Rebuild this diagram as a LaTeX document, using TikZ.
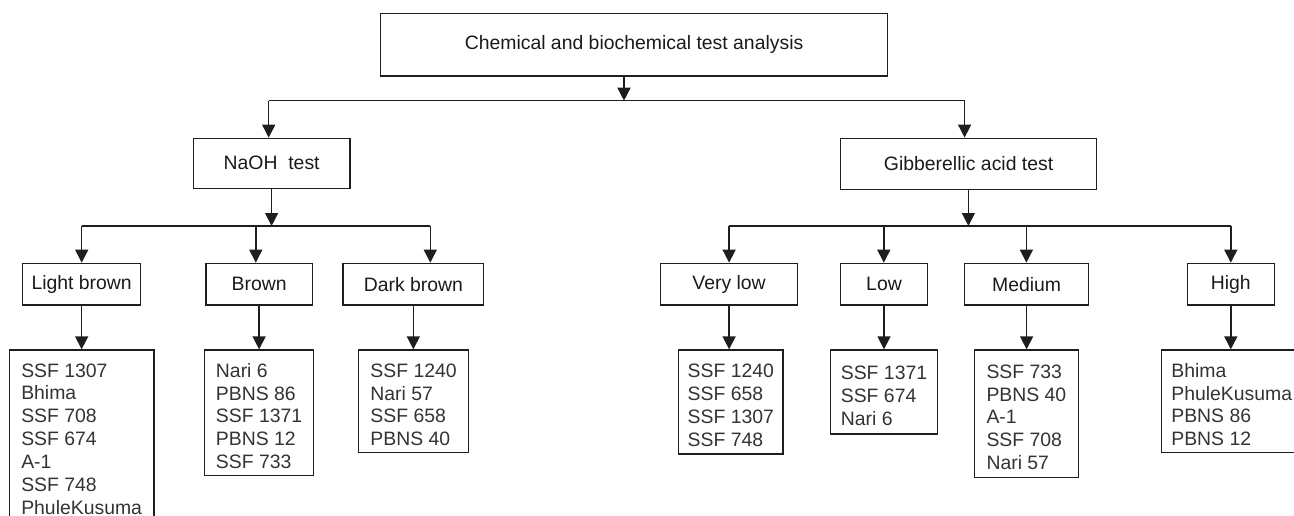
\documentclass[tikz,border=0pt]{standalone}
\usepackage{fontspec}
\setmainfont{Liberation Sans}
\usetikzlibrary{arrows.meta}
\definecolor{lncol}{HTML}{1E1E1E}
\definecolor{txcol}{HTML}{1A1A1A}
\definecolor{leafcol}{HTML}{333333}
\newcommand{\fl}{\rule{0pt}{20.8pt}}
\begin{document}
\begin{tikzpicture}[x=1pt,y=-1pt,
  box/.style={draw=lncol, line width=1.3pt, inner sep=0pt, text=txcol,
    font=\fontsize{19.4}{22.9}\selectfont, align=center},
  catbox/.style={box, minimum height=41.7pt},
  leaf/.style={box, align=left, text=leafcol},
  wire/.style={draw=lncol, line width=1.5pt},
  arr/.style={wire, -{Triangle[width=13pt,length=13pt]}}]
\useasboundingbox (0,0) rectangle (1294,516);
% top
\node[box, minimum width=506.9pt, minimum height=62.7pt] (top) at (634.05,44.65) {Chemical and biochemical test analysis};
% level 2
\node[box, minimum width=156.7pt, minimum height=50pt] (naoh) at (271.65,163.3) {NaOH\ \ test};
\node[box, minimum width=255.8pt, minimum height=51pt] (gib) at (968.6,163.8) {Gibberellic acid test};
% level 3
\node[catbox, minimum width=117.7pt] (lb) at (81.65,284.15) {Light brown};
\node[catbox, minimum width=106.2pt] (br) at (259.1,284.15) {Brown};
\node[catbox, minimum width=140.9pt] (db) at (413.35,284.15) {Dark brown};
\node[catbox, minimum width=136.8pt] (vl) at (729.1,284.15) {Very low};
\node[catbox, minimum width=86.6pt] (lo) at (884,284.15) {Low};
\node[catbox, minimum width=124pt] (me) at (1026.6,284.15) {Medium};
\node[catbox, minimum width=87pt] (hi) at (1230.8,284.15) {High};
% leaves
\node[leaf, minimum width=144.7pt, minimum height=170.8pt] (l1) at (81.65,435.4) {\fl SSF 1307\\Bhima\\SSF 708\\SSF 674\\A-1\\SSF 748\\PhuleKusuma};
\node[leaf, minimum width=109.4pt, minimum height=125.3pt] (l2) at (259.1,412.65) {\fl Nari 6\\PBNS 86\\SSF 1371\\PBNS 12\\SSF 733};
\node[leaf, minimum width=109.9pt, minimum height=102.3pt] (l3) at (413.55,401.15) {\fl SSF 1240\\Nari 57\\SSF 658\\PBNS 40};
\node[leaf, minimum width=104.4pt, minimum height=104pt] (l4) at (730.8,402) {\fl SSF 1240\\SSF 658\\SSF 1307\\SSF 748};
\node[leaf, minimum width=107.4pt, minimum height=84pt] (l5) at (884,392) {\fl SSF 1371\\SSF 674\\Nari 6};
\node[leaf, minimum width=104.4pt, minimum height=127.3pt] (l6) at (1026.4,413.65) {\fl SSF 733\\PBNS 40\\A-1\\SSF 708\\Nari 57};
\node[leaf, minimum width=140pt, minimum height=102.3pt] (l7) at (1231.7,401.15) {\fl Bhima\\PhuleKusuma\\PBNS 86\\PBNS 12};
% bus 1
\coordinate (b1m) at (624,100.7);
\coordinate (b1l) at (268.7,100.7);
\coordinate (b1r) at (964.6,100.7);
\draw[arr] (top.south -| b1m) -- (b1m);
\draw[wire] (b1l) -- (b1r);
\draw[arr] (b1l) -- (b1l |- naoh.north);
\draw[arr] (b1r) -- (b1r |- gib.north);
% bus 2
\coordinate (b2m) at (271.6,226);
\coordinate (b2a) at (81.7,226);
\coordinate (b2b) at (255.8,226);
\coordinate (b2c) at (430.3,226);
\draw[arr] (naoh.south -| b2m) -- (b2m);
\draw[wire] (b2a) -- (b2c);
\draw[arr] (b2a) -- (b2a |- lb.north);
\draw[arr] (b2b) -- (b2b |- br.north);
\draw[arr] (b2c) -- (b2c |- db.north);
% bus 3
\coordinate (b3m) at (968.4,226);
\coordinate (b3a) at (729.1,226);
\coordinate (b3b) at (883.8,226);
\coordinate (b3c) at (1026.4,226);
\coordinate (b3d) at (1230.8,226);
\draw[arr] (gib.south -| b3m) -- (b3m);
\draw[wire] (b3a) -- (b3d);
\draw[arr] (b3a) -- (b3a |- vl.north);
\draw[arr] (b3b) -- (b3b |- lo.north);
\draw[arr] (b3c) -- (b3c |- me.north);
\draw[arr] (b3d) -- (b3d |- hi.north);
% to leaves
\draw[arr] (lb.south) -- (lb.south |- l1.north);
\draw[arr] (br.south) -- (br.south |- l2.north);
\draw[arr] (db.south) -- (db.south |- l3.north);
\draw[arr] (vl.south) -- (vl.south |- l4.north);
\draw[arr] (lo.south) -- (lo.south |- l5.north);
\draw[arr] (me.south) -- (me.south |- l6.north);
\draw[arr] (hi.south) -- (hi.south |- l7.north);
\end{tikzpicture}
\end{document}
